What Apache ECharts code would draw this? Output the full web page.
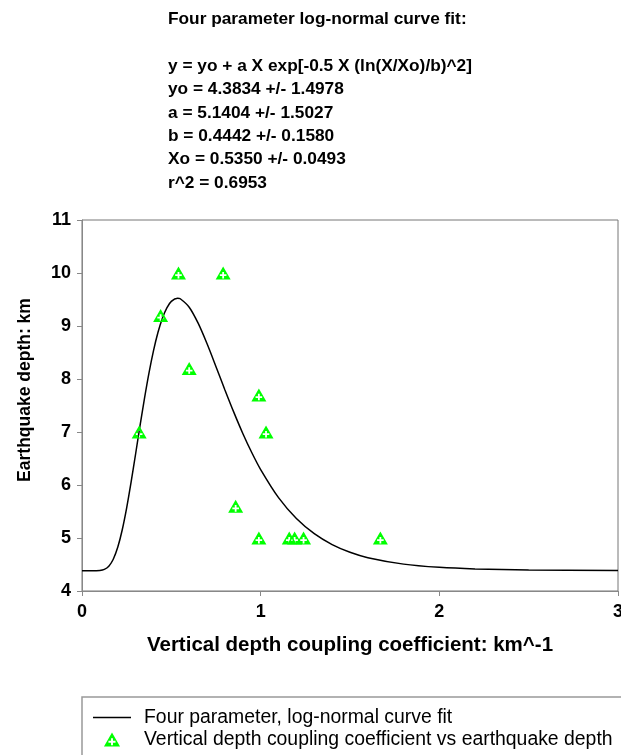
<!DOCTYPE html>
<html>
<head>
<meta charset="utf-8">
<script src="https://cdn.jsdelivr.net/npm/echarts@6/dist/echarts.min.js"></script>
<style>
html,body{margin:0;padding:0;background:#fff;overflow:hidden;}
#chart{width:621px;height:755px;}
</style>
</head>
<body>
<div id="chart"></div>
<script>
// Observed points
var obsX = [0.32, 0.44, 0.54, 0.60, 0.79, 0.86, 0.99, 1.03, 0.99, 1.16, 1.19, 1.24, 1.67];
var obsY = [7.0, 9.2, 10.0, 8.2, 10.0, 5.6, 7.7, 7.0, 5.0, 5.0, 5.0, 5.0, 5.0];

// Fitted curve
var fitX = [0, 0.05, 0.1, 0.125, 0.15, 0.175, 0.2, 0.225, 0.25, 0.275, 0.3, 0.325, 0.35, 0.375, 0.4, 0.425, 0.45, 0.475, 0.5, 0.535, 0.55, 0.6, 0.65, 0.7, 0.75, 0.8, 0.85, 0.9, 0.95, 1.0, 1.1, 1.2, 1.3, 1.4, 1.5, 1.6, 1.8, 2.0, 2.2, 2.5, 3.0];
var fitY = [4.383, 4.383, 4.388, 4.408, 4.469, 4.600, 4.825, 5.151, 5.569, 6.057, 6.585, 7.123, 7.640, 8.116, 8.532, 8.878, 9.148, 9.343, 9.465, 9.524, 9.514, 9.355, 9.053, 8.664, 8.233, 7.794, 7.370, 6.973, 6.613, 6.291, 5.761, 5.367, 5.081, 4.876, 4.731, 4.629, 4.507, 4.446, 4.416, 4.396, 4.386];

var titleLines = [
  'Four parameter log-normal curve fit:',
  '',
  'y = yo + a X exp[-0.5 X (ln(X/Xo)/b)^2]',
  'yo = 4.3834 +/- 1.4978',
  'a = 5.1404 +/- 1.5027',
  'b = 0.4442 +/- 0.1580',
  'Xo = 0.5350 +/- 0.0493',
  'r^2 = 0.6953'
];
var xName = 'Vertical depth coupling coefficient: km^-1';
var yName = 'Earthquake depth: km';
var lineName = 'Four parameter, log-normal curve fit';
var scatterName = 'Vertical depth coupling coefficient vs earthquake depth';

var triPlus = 'path://M50 0 L100 87 L0 87 Z M44 36 L44 52 L28 52 L28 64 L44 64 L44 80 L56 80 L56 64 L72 64 L72 52 L56 52 L56 36 Z';

var fitData = fitX.map(function(x,i){return [x, fitY[i]];});
var obsData = obsX.map(function(x,i){return [x, obsY[i]];});

var FONT = 'Liberation Sans, Arial, sans-serif';

var chart = echarts.init(document.getElementById('chart'), null, {renderer:'canvas'});
var option = {
  backgroundColor: '#fff',
  animation: false,
  graphic: [
    {
      type: 'text', left: 168, top: 8,
      style: {text: titleLines.join('\n'), font: 'bold 17.3px ' + FONT, fill: '#000', lineHeight: 23.3}
    },
    {
      type: 'text', x: 25, y: 390, rotation: Math.PI / 2,
      style: {text: yName, font: 'bold 17.5px ' + FONT, fill: '#000', align: 'center', verticalAlign: 'middle'}
    },
    {
      type: 'rect', shape: {x: 82, y: 697, width: 560, height: 80},
      style: {fill: 'none', stroke: '#999', lineWidth: 1.5}
    }
  ],
  grid: {left: 82, top: 220, right: 3, bottom: 164, show: true, borderColor: '#777', borderWidth: 1,
         outerBoundsMode: 'none', containLabel: false},
  legend: {
    orient: 'vertical', left: 93, top: 708, padding: 0, itemGap: 3, itemWidth: 38, itemHeight: 14,
    textStyle: {fontFamily: FONT, fontSize: 19.4, lineHeight: 19, color: '#000', padding: [0, 0, 0, 8]},
    data: [
      {name: lineName, icon: 'path://M0 50 L100 50 L100 54 L0 54 Z'},
      {name: scatterName}
    ]
  },
  xAxis: {
    type: 'value', min: 0, max: 3, interval: 1,
    name: xName, nameLocation: 'middle', nameGap: 44,
    nameTextStyle: {fontFamily: FONT, fontSize: 20.5, fontWeight: 'bold', color: '#000'},
    axisLine: {lineStyle: {color: '#888', width: 1}},
    axisTick: {show: true, inside: false, length: 5, lineStyle: {color: '#888'}},
    axisLabel: {fontFamily: FONT, fontSize: 18, fontWeight: 'bold', color: '#000', margin: 12},
    splitLine: {show: false}
  },
  yAxis: {
    type: 'value', min: 4, max: 11, interval: 1,
    axisLine: {show: true, lineStyle: {color: '#888', width: 1}},
    axisTick: {show: true, inside: false, length: 5, lineStyle: {color: '#888'}},
    axisLabel: {fontFamily: FONT, fontSize: 18, fontWeight: 'bold', color: '#000', margin: 11},
    splitLine: {show: false}
  },
  series: [
    {
      name: lineName, type: 'line', data: fitData, smooth: 0.3,
      symbol: 'none', showSymbol: false,
      lineStyle: {color: '#000', width: 1.5},
      itemStyle: {color: '#000'},
      z: 2
    },
    {
      name: scatterName, type: 'scatter', data: obsData,
      symbol: triPlus, symbolSize: [15, 13],
      itemStyle: {color: '#00ff00', opacity: 1},
      z: 3
    }
  ]
};
chart.setOption(option);
</script>
</body>
</html>
